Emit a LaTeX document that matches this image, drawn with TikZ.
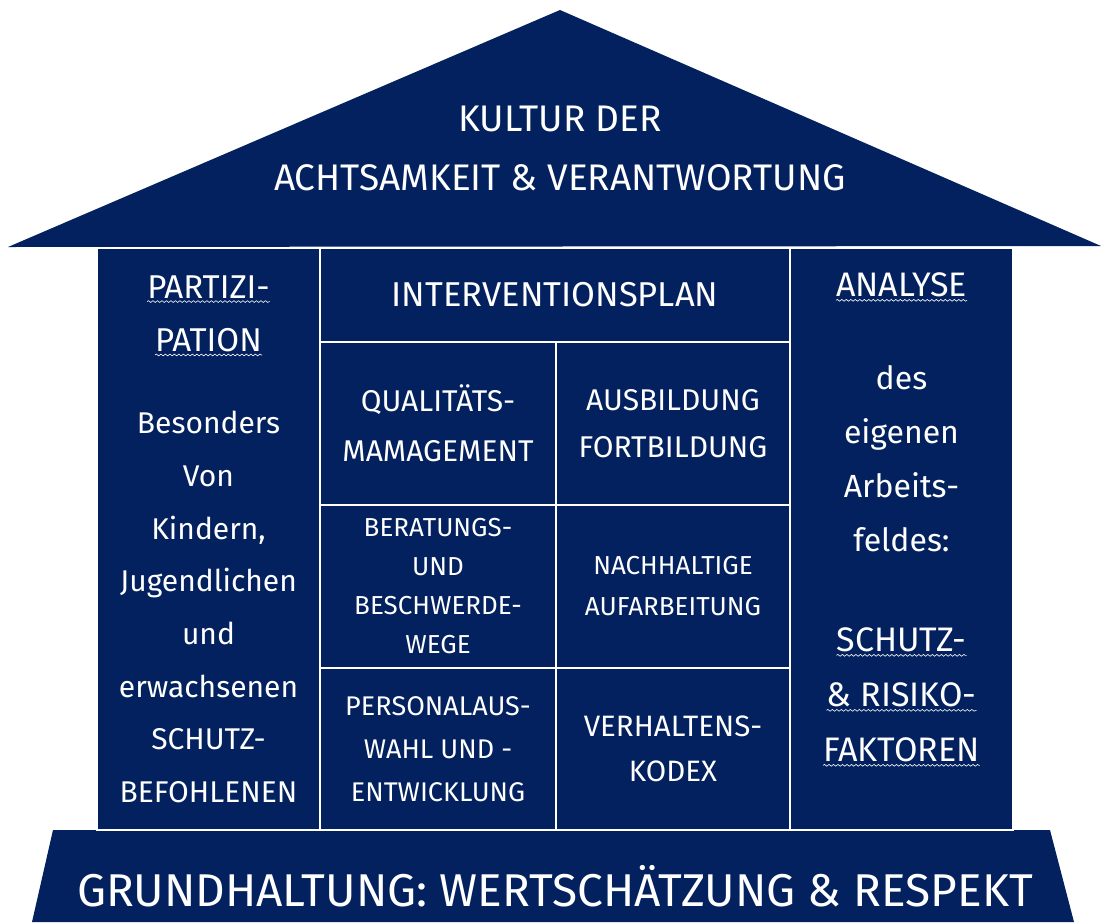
\documentclass[tikz,border=0pt]{standalone}
\usepackage{fontspec}
\setmainfont{Fira Sans}
\usetikzlibrary{decorations.pathmorphing}
\definecolor{navy}{RGB}{2,33,94}

\begin{document}
\begin{tikzpicture}[x=1pt,y=-1pt,
    block/.style={draw=white,fill=navy,line width=2pt,inner sep=0pt},
    txt/.style 2 args={text=white,align=center,inner sep=0pt,font=\fontsize{#1}{#2}\selectfont},
    wavy/.style={draw=white,line width=0.6pt,decorate,decoration={snake,amplitude=0.9pt,segment length=4.5pt}}]
        \useasboundingbox (0,0) rectangle (1101,922);
        \coordinate (roofL) at (8,247);
        \coordinate (roofT) at (560,10);
        \coordinate (roofR) at (1101,246);
        \coordinate (baseTL) at (53,830);
        \coordinate (baseTR) at (1050,830);
        \coordinate (baseBR) at (1074,922);
        \coordinate (baseBL) at (32,922);
        \fill[navy] (roofL) -- (roofT) -- (roofR) -- cycle;
        \fill[navy] (baseTL) -- (baseTR) -- (baseBR) -- (baseBL) -- cycle;
        \node[txt={37}{59}] (roof) at (560,148) {KULTUR DER\\ACHTSAMKEIT \& VERANTWORTUNG};
        \node[txt={46}{50}] (basis) at (555,886) {GRUNDHALTUNG: WERTSCHÄTZUNG \& RESPEKT};
        % Saeulen
        \node[block,minimum width=223,minimum height=582] (part) at (208.5,539) {};
        \node[block,minimum width=223,minimum height=582] (anal) at (901.5,539) {};
        \node[block,minimum width=470,minimum height=94,txt={34.5}{40}] (plan) at (555,295) {INTERVENTIONSPLAN};
        \node[block,minimum width=236,minimum height=163,txt={30}{50}] (qual) at (438,423.5) {QUALITÄTS-\\MAMAGEMENT};
        \node[block,minimum width=234,minimum height=163,txt={30}{47}] (ausb) at (673,423.5) {AUSBILDUNG\\FORTBILDUNG};
        \node[block,minimum width=236,minimum height=163,txt={26}{39}] (berat) at (438,586.5) {BERATUNGS-\\UND\\BESCHWERDE-\\WEGE};
        \node[block,minimum width=234,minimum height=163,txt={26}{41}] (nachh) at (673,586.5) {NACHHALTIGE\\AUFARBEITUNG};
        \node[block,minimum width=236,minimum height=162,txt={27}{43}] (perso) at (438,749) {PERSONALAUS-\\WAHL UND -\\ENTWICKLUNG};
        \node[block,minimum width=234,minimum height=162,txt={29.5}{45}] (kodex) at (673,749) {VERHALTENS-\\KODEX};
        % Text links
        \node[txt={33}{36}] (partA) at (208.5,287) {PARTIZI-};
        \node[txt={33}{36}] (partB) at (208.5,340) {PATION};
        \node[txt={30}{52.7}] (partText) at (208.5,607) {Besonders\\Von\\Kindern,\\Jugendlichen\\und\\erwachsenen\\SCHUTZ-\\BEFOHLENEN};
        % Text rechts
        \node[txt={34}{36}] (anaA) at (901.5,285) {ANALYSE};
        \node[txt={32}{54}] (anaText) at (901.5,459) {des\\eigenen\\Arbeits-\\feldes:};
        \node[txt={34}{36}] (schutzA) at (901.5,640) {SCHUTZ-};
        \node[txt={34}{36}] (schutzB) at (901.5,695) {\& RISIKO-};
        \node[txt={34}{36}] (schutzC) at (901.5,750) {FAKTOREN};
        \foreach \n in {partA,partB,anaA,schutzA,schutzB,schutzC}
            \draw[wavy] ([yshift=-3pt]\n.south west) -- ([yshift=-3pt]\n.south east);
\end{tikzpicture}
\end{document}
